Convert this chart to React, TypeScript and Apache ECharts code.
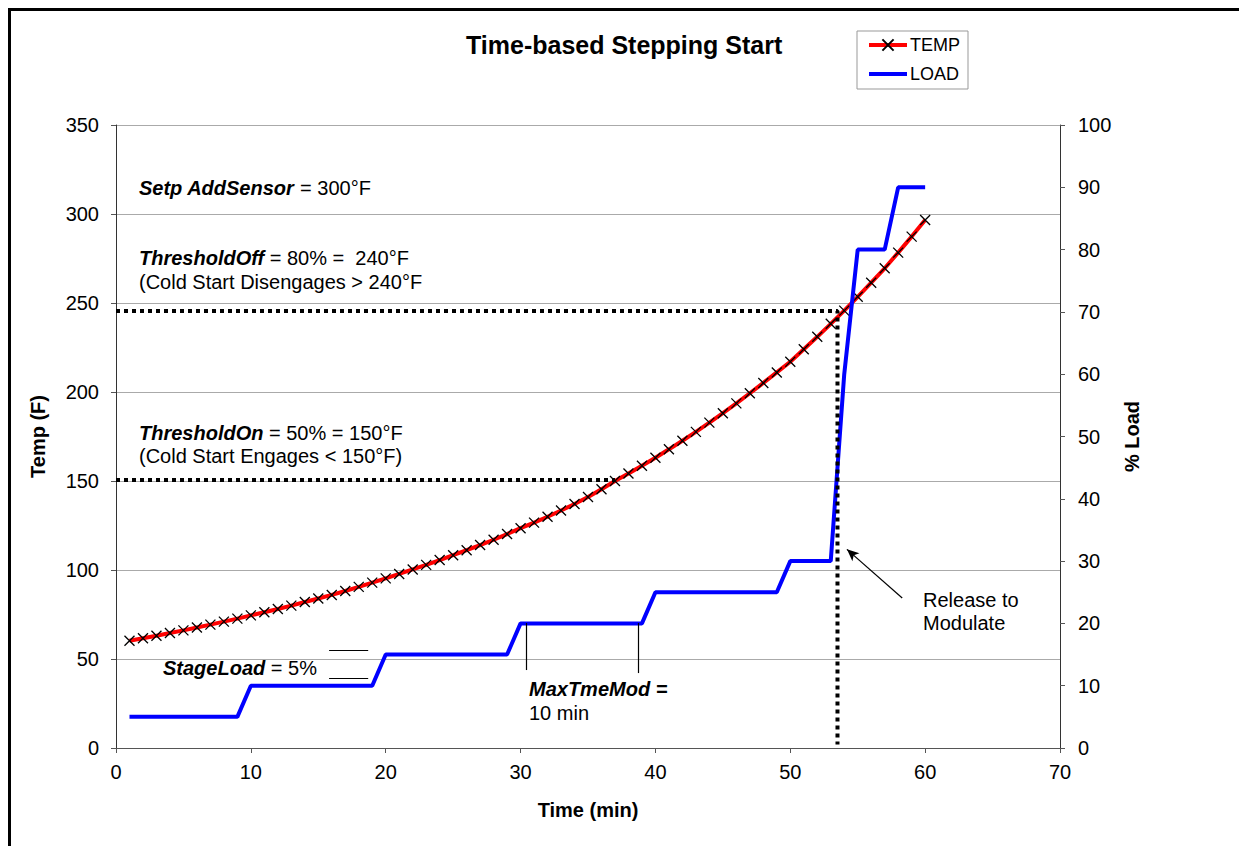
import React, { useEffect, useRef } from "react";
import * as echarts from "echarts";

const FONT = '"Liberation Sans", Arial, sans-serif';

// ---- data ----
const minutes = [
  1, 2, 3, 4, 5, 6, 7, 8, 9, 10, 11, 12, 13, 14, 15, 16, 17, 18, 19, 20,
  21, 22, 23, 24, 25, 26, 27, 28, 29, 30, 31, 32, 33, 34, 35, 36, 37, 38, 39, 40,
  41, 42, 43, 44, 45, 46, 47, 48, 49, 50, 51, 52, 53, 54, 55, 56, 57, 58, 59, 60,
];
const tempF = [
  60.3, 61.7, 63.1, 64.6, 66.1, 67.7, 69.3, 71.0, 72.7, 74.5,
  76.3, 78.1, 80.0, 82.0, 84.0, 86.0, 88.2, 90.5, 92.9, 95.3,
  97.8, 100.3, 102.9, 105.6, 108.3, 111.1, 114.0, 117.0, 120.2, 123.5,
  126.6, 129.9, 133.4, 137.1, 141.0, 145.4, 150.0, 154.2, 158.6, 163.1,
  167.8, 172.6, 177.6, 182.8, 188.1, 193.6, 199.3, 205.1, 211.0, 217.0,
  224.0, 231.0, 238.3, 245.7, 253.5, 261.4, 269.5, 278.3, 287.3, 296.6,
];
const loadTime = [1, 9, 10, 19, 20, 29, 30, 39, 40, 49, 50, 53, 54, 55, 57, 58, 60];
const loadPct = [5, 5, 10, 10, 15, 15, 20, 20, 25, 25, 30, 30, 60, 80, 80, 90, 90];

// dotted threshold guides (time, temp)
const thresholdOffTime = [0, 53.5, 53.5];
const thresholdOffTemp = [245.5, 245.5, 2];
const thresholdOnTime = [0, 37];
const thresholdOnTemp = [150.5, 150.5];

// annotation guide lines [t1, T1, t2, T2]
const maxTmeModTicks = [
  [30.4, 70.2, 30.4, 43.8],
  [38.75, 70.2, 38.75, 42.1],
];
const stageLoadTicks = [
  [15.8, 54.7, 18.7, 54.7],
  [15.8, 39.2, 18.7, 39.2],
];
const releaseArrow = [58.3, 84.3, 54.2, 111.6];

const xTicks = { min: 0, max: 70, interval: 10 };
const tempTicks = { min: 0, max: 350, interval: 50 };
const loadTicks = { min: 0, max: 100, interval: 10 };

export default function App() {
  const ref = useRef<HTMLDivElement>(null);

  useEffect(() => {
    if (!ref.current) return;
    const chart = echarts.init(ref.current, undefined, { renderer: "svg" });

    const tempData = minutes.map((m, i) => [m, tempF[i]]);
    const loadData = loadTime.map((m, i) => [m, loadPct[i]]);
    const offData = thresholdOffTime.map((m, i) => [m, thresholdOffTemp[i]]);
    const onData = thresholdOnTime.map((m, i) => [m, thresholdOnTemp[i]]);

    const guideLines: any[] = [...maxTmeModTicks, ...stageLoadTicks].map((g) => [
      { coord: [g[0], g[1]], symbol: "none" },
      { coord: [g[2], g[3]], symbol: "none" },
    ]);
    guideLines.push([
      { coord: [releaseArrow[0], releaseArrow[1]], symbol: "none" },
      { coord: [releaseArrow[2], releaseArrow[3]], symbol: "arrow", symbolSize: [8, 12] },
    ]);

    const axisLabel = { color: "#000", fontSize: 20, fontFamily: FONT };
    const nameStyle = { color: "#000", fontSize: 20, fontWeight: "bold" as const, fontFamily: FONT };
    const richBI = {
      bi: { fontStyle: "italic", fontWeight: "bold", fontSize: 20, fontFamily: FONT, fill: "#000", color: "#000" },
    };
    const txt = (x: number, y: number, text: string) => ({
      type: "text",
      x,
      y,
      silent: true,
      style: {
        text,
        fontSize: 20,
        fontFamily: FONT,
        fill: "#000",
        verticalAlign: "middle",
        align: "left",
        rich: richBI,
      },
    });

    chart.setOption({
      animation: false,
      backgroundColor: "#fff",
      title: {
        text: "Time-based Stepping Start",
        left: 466,
        top: 32,
        padding: 0,
        textStyle: { fontSize: 25, fontWeight: "bold", fontFamily: FONT, color: "#000" },
      },
      legend: {
        data: [
          { name: "TEMP" },
          { name: "LOAD", itemStyle: { color: "transparent", borderColor: "transparent", borderWidth: 0 } },
        ],
        orient: "vertical",
        left: 857,
        top: 31,
        padding: [5, 8, 6, 10],
        itemGap: 11,
        itemWidth: 38,
        itemHeight: 14,
        borderColor: "#999",
        borderWidth: 1,
        lineStyle: { width: "inherit" },
        textStyle: { fontSize: 18, fontFamily: FONT, color: "#000", padding: [0, 0, 0, -2] },
      },
      grid: { left: 116, right: 179, top: 125, bottom: 98, containLabel: false },
      xAxis: {
        type: "value",
        ...xTicks,
        name: "Time (min)",
        nameLocation: "middle",
        nameGap: 52,
        nameTextStyle: nameStyle,
        axisLine: { show: true, lineStyle: { color: "#555", width: 1 } },
        axisTick: { show: true, length: 5, lineStyle: { color: "#555" } },
        axisLabel: { ...axisLabel, margin: 14 },
        splitLine: { show: false },
      },
      yAxis: [
        {
          type: "value",
          ...tempTicks,
          name: "Temp (F)",
          nameLocation: "middle",
          nameRotate: 90,
          nameGap: 68,
          nameTextStyle: nameStyle,
          axisLine: { show: true, lineStyle: { color: "#333", width: 1 } },
          axisTick: { show: true, length: 5, lineStyle: { color: "#555" } },
          axisLabel: { ...axisLabel, margin: 17 },
          splitLine: { show: true, lineStyle: { color: "#aaa", width: 1 } },
        },
        {
          type: "value",
          ...loadTicks,
          position: "right",
          name: "% Load",
          nameLocation: "middle",
          nameRotate: 90,
          nameGap: 49,
          nameTextStyle: nameStyle,
          axisLine: { show: true, lineStyle: { color: "#333", width: 1 } },
          axisTick: { show: true, length: 5, lineStyle: { color: "#555" } },
          axisLabel: { ...axisLabel, margin: 18 },
          splitLine: { show: false },
        },
      ],
      series: [
        {
          name: "TEMP",
          type: "line",
          data: tempData,
          yAxisIndex: 0,
          lineStyle: { color: "#ff0000", width: 4 },
          symbol: "path://M0,0L10,10M10,0L0,10",
          symbolSize: 10,
          itemStyle: { color: "#ff0000", borderColor: "#000", borderWidth: 1.3 },
          color: "#ff0000",
          silent: true,
          z: 2,
        },
        {
          name: "LOAD",
          type: "line",
          data: loadData,
          yAxisIndex: 1,
          lineStyle: { color: "#0000ff", width: 4 },
          itemStyle: { color: "#0000ff" },
          color: "#0000ff",
          symbol: "none",
          silent: true,
          z: 3,
        },
        {
          name: "ThresholdOff",
          type: "line",
          data: offData,
          yAxisIndex: 0,
          symbol: "none",
          lineStyle: { color: "#000", width: 4, type: [4, 4], cap: "butt" },
          silent: true,
          z: 4,
        },
        {
          name: "ThresholdOn",
          type: "line",
          data: onData,
          yAxisIndex: 0,
          symbol: "none",
          lineStyle: { color: "#000", width: 4, type: [4, 4], cap: "butt" },
          silent: true,
          z: 4,
        },
        {
          name: "guides",
          type: "line",
          data: [],
          yAxisIndex: 0,
          silent: true,
          markLine: {
            silent: true,
            symbol: ["none", "none"],
            label: { show: false },
            lineStyle: { color: "#000", width: 1.2, type: "solid" },
            emphasis: { disabled: true },
            data: guideLines,
          },
        },
      ],
      graphic: [
        {
          type: "line",
          silent: true,
          shape: { x1: 8, y1: 9.5, x2: 1239, y2: 9.5 },
          style: { stroke: "#000", lineWidth: 3 },
        },
        {
          type: "line",
          silent: true,
          shape: { x1: 9.5, y1: 8, x2: 9.5, y2: 846 },
          style: { stroke: "#000", lineWidth: 3 },
        },
        txt(139, 188, "{bi|Setp AddSensor} = 300°F"),
        txt(139, 258, "{bi|ThresholdOff} = 80% =  240°F"),
        txt(139, 282, "(Cold Start Disengages > 240°F"),
        txt(139, 433, "{bi|ThresholdOn} = 50% = 150°F"),
        txt(139, 456, "(Cold Start Engages < 150°F)"),
        txt(163, 668, "{bi|StageLoad} = 5%"),
        txt(529, 689, "{bi|MaxTmeMod =}"),
        txt(529, 713, "10 min"),
        txt(923, 600, "Release to"),
        txt(923, 623, "Modulate"),
      ],
    });

    return () => chart.dispose();
  }, []);

  return (
    <div
      ref={ref}
      style={{ position: "absolute", left: 0, top: 0, width: 1239, height: 846 }}
    />
  );
}
